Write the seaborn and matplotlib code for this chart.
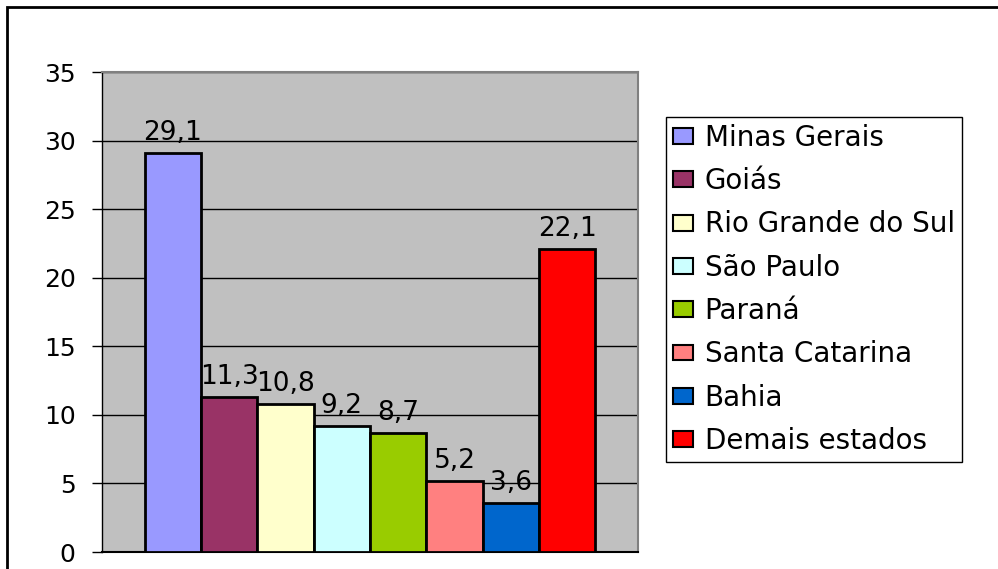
import matplotlib
matplotlib.use('Agg')
import matplotlib.pyplot as plt
from matplotlib.patches import Patch, Rectangle
import seaborn as sns
import pandas as pd

estados = ['Minas Gerais', 'Goiás', 'Rio Grande do Sul', 'São Paulo',
           'Paraná', 'Santa Catarina', 'Bahia', 'Demais estados']
valores = [29.1, 11.3, 10.8, 9.2, 8.7, 5.2, 3.6, 22.1]
cores = ['#9999FF', '#993366', '#FFFFCC', '#CCFFFF',
         '#99CC00', '#FF8080', '#0066CC', '#FF0000']

df = pd.DataFrame({'estado': estados, 'valor': valores})

sns.set_style('white')
plt.rcParams['font.family'] = ['DejaVu Sans']
plt.rcParams['text.color'] = 'black'
plt.rcParams['ytick.color'] = 'black'
plt.rcParams['ytick.labelcolor'] = 'black'

fig = plt.figure(figsize=(9.98, 5.69), dpi=100)
ax = fig.add_axes([102/998, 17/569, 536/998, 480/569])
ax.set_facecolor('#C0C0C0')

sns.barplot(data=df, x='estado', y='valor', hue='estado', palette=cores,
            width=1.0, edgecolor='black', linewidth=2, legend=False,
            saturation=1, ax=ax, zorder=3)

# gridlines
ax.yaxis.grid(True, color='black', linewidth=1, zorder=1)
ax.set_axisbelow(True)
ax.set_ylim(0, 35)
ax.set_yticks(range(0, 36, 5))
ax.set_xlim(-1.26, 8.26)
ax.set_xticks([])
ax.set_xlabel('')
ax.set_ylabel('')
ax.tick_params(axis='y', length=7, width=1, direction='out', left=True,
               labelsize=18, pad=12, color='black')

for s in ['top', 'right']:
    ax.spines[s].set_color('#808080')
    ax.spines[s].set_linewidth(1.5)
ax.spines['left'].set_color('black')
ax.spines['bottom'].set_color('black')
ax.spines['left'].set_linewidth(1)
ax.spines['bottom'].set_linewidth(1.5)

labels = [f'{v:.1f}'.replace('.', ',') for v in valores]
for bars in ax.containers:
    ax.bar_label(bars, labels=[labels[int(round(b.get_x() + b.get_width()/2))] for b in bars],
                 padding=5, fontsize=19)

handles = [Patch(facecolor=c, edgecolor='black', linewidth=1.5, label=e)
           for c, e in zip(cores, estados)]
leg = fig.legend(handles=handles, loc='upper left',
                 bbox_to_anchor=(666/998, 1 - 117/569), fontsize=20,
                 frameon=True, fancybox=False, framealpha=1,
                 handlelength=0.72, handleheight=0.5, handletextpad=0.42,
                 labelspacing=0.55, borderpad=0.25, borderaxespad=0)
leg.get_frame().set_edgecolor('black')
leg.get_frame().set_linewidth(1)

# outer chart frame
fig.add_artist(Rectangle((7/998, -0.1), 1.2, (569-7)/569 + 0.1,
                         transform=fig.transFigure, fill=False,
                         edgecolor='black', linewidth=2, clip_on=False))

fig.savefig('out.png', dpi=100)
